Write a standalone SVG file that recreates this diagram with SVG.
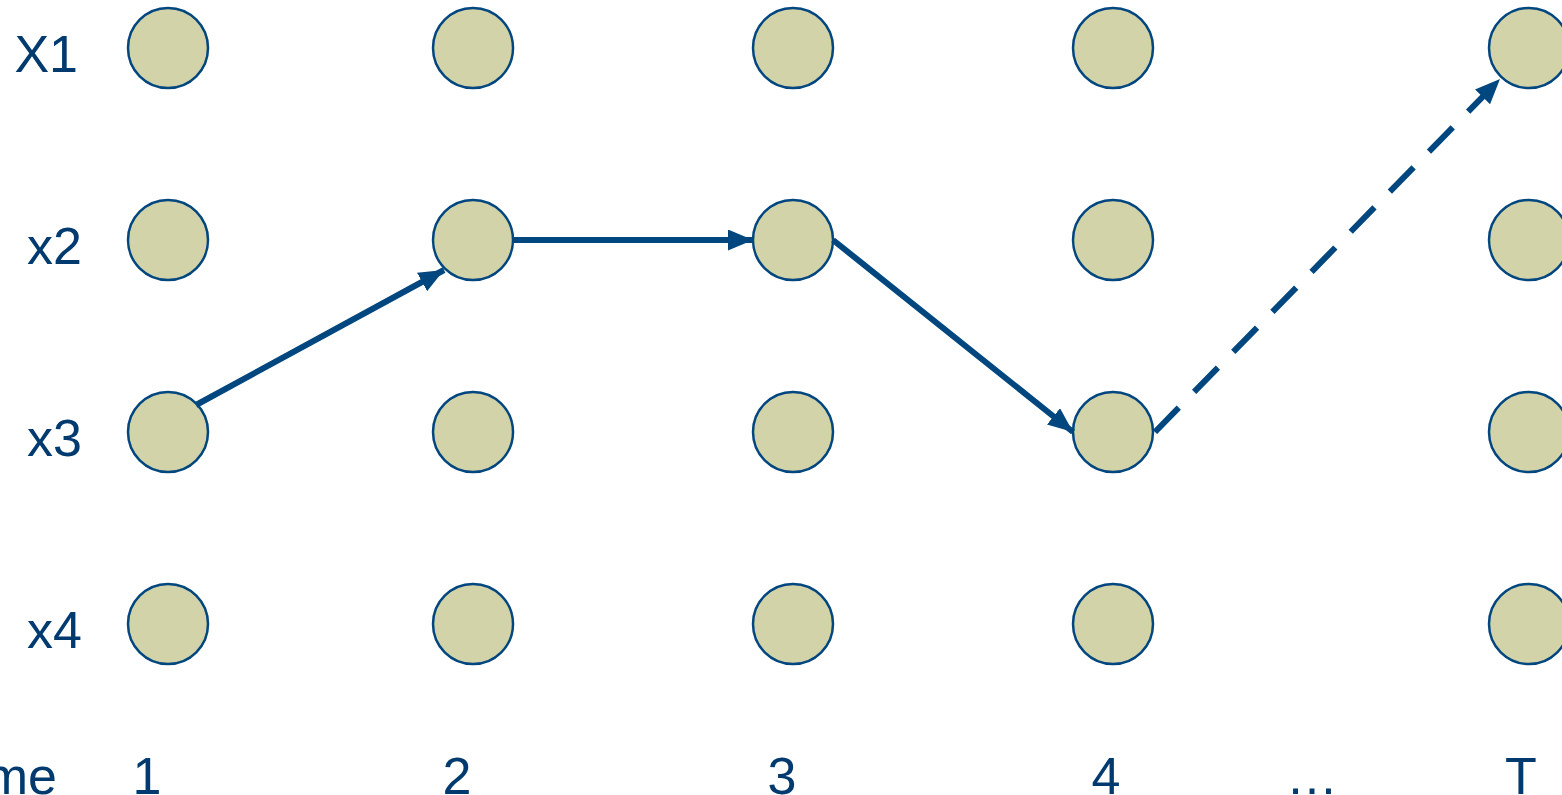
<svg xmlns="http://www.w3.org/2000/svg" width="1562" height="795" viewBox="0 0 1562 795">
<style>
.n{fill:#D3D3AA;stroke:#00467F;stroke-width:2.5}
.t{font-family:"Liberation Sans",Arial,sans-serif;font-size:52px;fill:#003A6E}
.e{stroke:#00467F;stroke-width:6;fill:none}
.d{stroke-dasharray:34 22}
</style>
<defs>
<marker id="a" markerUnits="userSpaceOnUse" markerWidth="28" markerHeight="24" refX="25" refY="10.5" orient="auto">
<path d="M0,0 L25,10.5 L0,21 z" fill="#00467F"/>
</marker>
</defs>
<rect width="1562" height="795" fill="#fff"/>
<g id="labels">
<text class="t" x="78" y="72" text-anchor="end">X1</text>
<text class="t" x="82" y="264" text-anchor="end">x2</text>
<text class="t" x="82" y="456" text-anchor="end">x3</text>
<text class="t" x="82" y="648" text-anchor="end">x4</text>
<text class="t" x="57" y="794" text-anchor="end">me</text>
<text class="t" x="147" y="794" text-anchor="middle">1</text>
<text class="t" x="457" y="794" text-anchor="middle">2</text>
<text class="t" x="782" y="794" text-anchor="middle">3</text>
<text class="t" x="1106" y="794" text-anchor="middle">4</text>
<text class="t" x="1312" y="794" text-anchor="middle">…</text>
<text class="t" x="1521" y="794" text-anchor="middle">T</text>
</g>
<g id="nodes">
<g id="n1-1"><circle class="n" cx="168" cy="48" r="40"/></g>
<g id="n1-2"><circle class="n" cx="168" cy="240" r="40"/></g>
<g id="n1-3"><circle class="n" cx="168" cy="432" r="40"/></g>
<g id="n1-4"><circle class="n" cx="168" cy="624" r="40"/></g>
<g id="n2-1"><circle class="n" cx="473" cy="48" r="40"/></g>
<g id="n2-2"><circle class="n" cx="473" cy="240" r="40"/></g>
<g id="n2-3"><circle class="n" cx="473" cy="432" r="40"/></g>
<g id="n2-4"><circle class="n" cx="473" cy="624" r="40"/></g>
<g id="n3-1"><circle class="n" cx="793" cy="48" r="40"/></g>
<g id="n3-2"><circle class="n" cx="793" cy="240" r="40"/></g>
<g id="n3-3"><circle class="n" cx="793" cy="432" r="40"/></g>
<g id="n3-4"><circle class="n" cx="793" cy="624" r="40"/></g>
<g id="n4-1"><circle class="n" cx="1113" cy="48" r="40"/></g>
<g id="n4-2"><circle class="n" cx="1113" cy="240" r="40"/></g>
<g id="n4-3"><circle class="n" cx="1113" cy="432" r="40"/></g>
<g id="n4-4"><circle class="n" cx="1113" cy="624" r="40"/></g>
<g id="nT-1"><circle class="n" cx="1529" cy="48" r="40"/></g>
<g id="nT-2"><circle class="n" cx="1529" cy="240" r="40"/></g>
<g id="nT-3"><circle class="n" cx="1529" cy="432" r="40"/></g>
<g id="nT-4"><circle class="n" cx="1529" cy="624" r="40"/></g>
</g>
<g id="connectors">
<line class="e" x1="196" y1="405" x2="444" y2="270" marker-end="url(#a)"/>
<line class="e" x1="513" y1="240" x2="753" y2="240" marker-end="url(#a)"/>
<line class="e" x1="833" y1="240" x2="1073" y2="432" marker-end="url(#a)"/>
<line class="e d" x1="1155" y1="432" x2="1500" y2="79" marker-end="url(#a)"/>
</g>
</svg>
